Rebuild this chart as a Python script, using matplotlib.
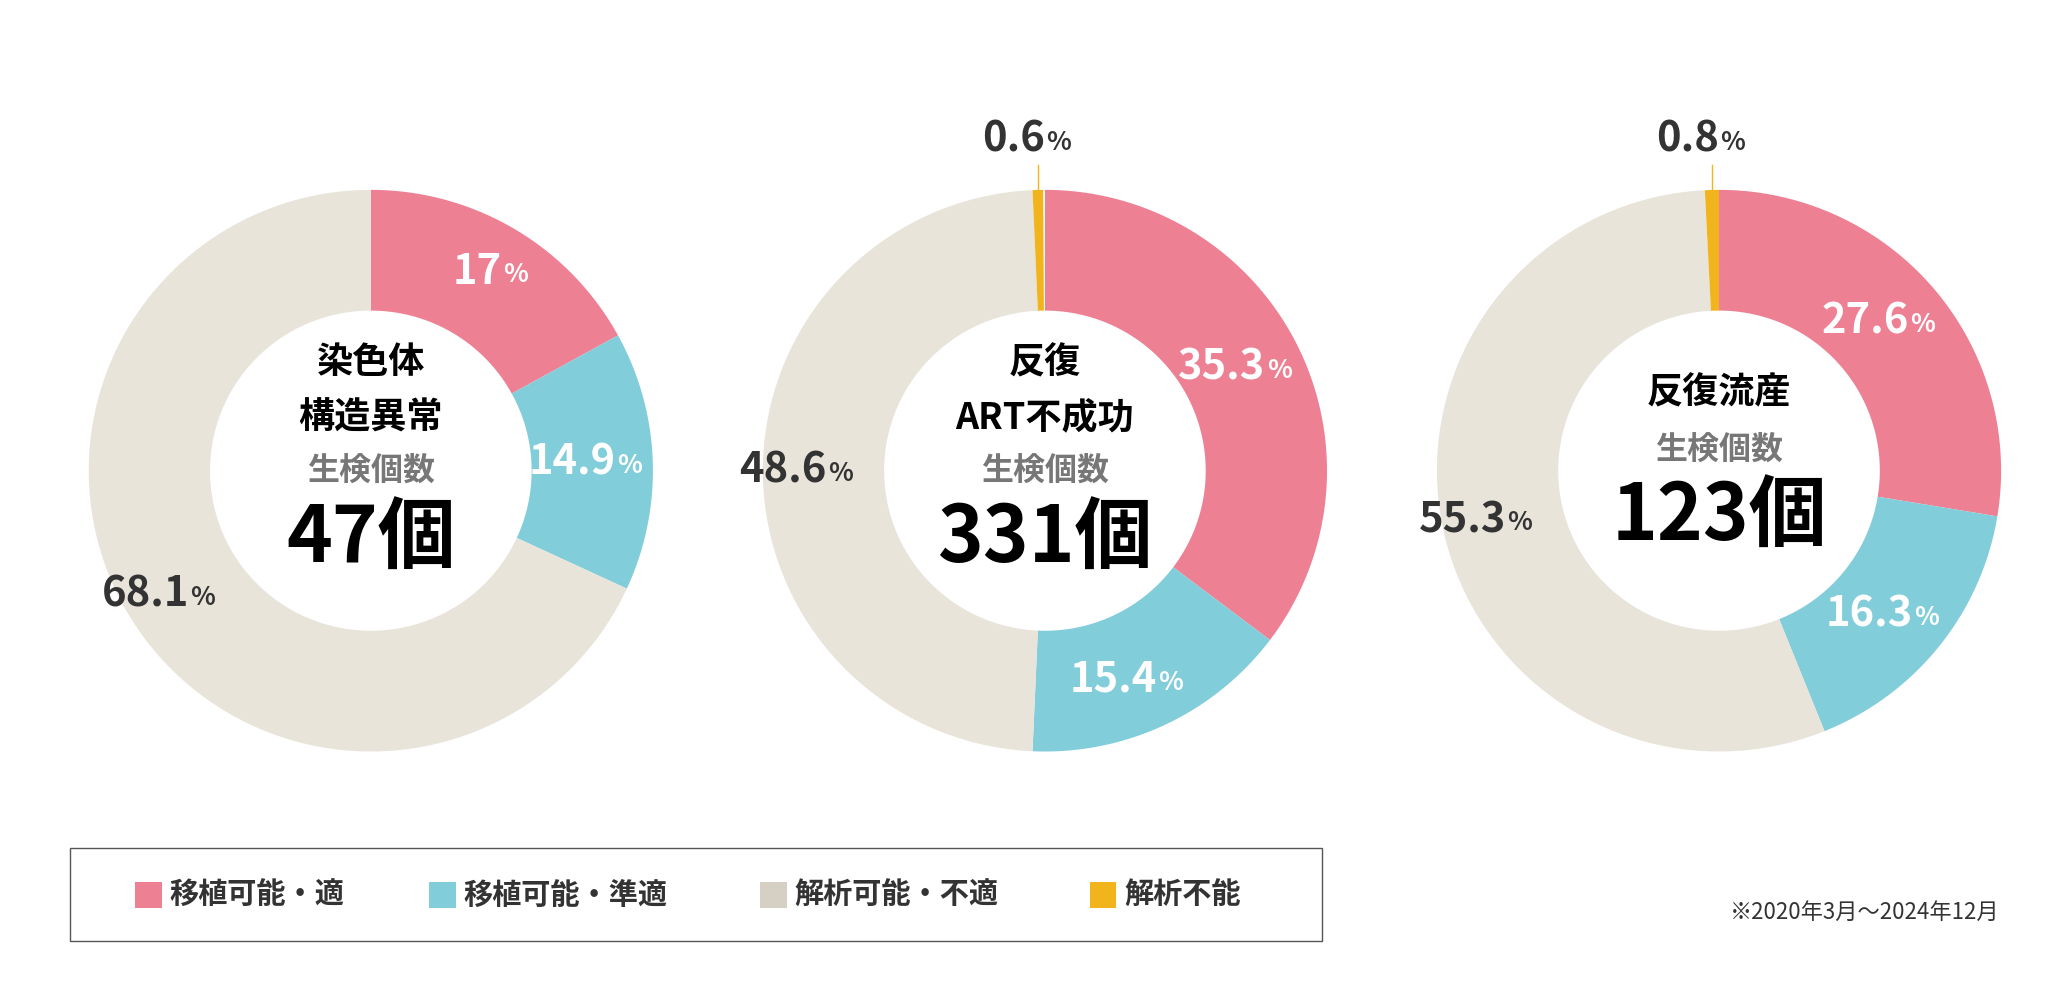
import matplotlib
matplotlib.use("Agg")
import matplotlib.pyplot as plt
import numpy as np
from matplotlib.patches import Rectangle

plt.rcParams['font.family'] = 'Noto Sans CJK JP'

categories = ["移植可能・適", "移植可能・準適", "解析可能・不適", "解析不能"]
colors = ["#EE8094", "#82CDDA", "#E8E4DA", "#F2B41C"]
legend_colors = ["#EE8094", "#82CDDA", "#D6CFC4", "#F2B41C"]
values1 = [17.0, 14.9, 68.1, 0.0]
values2 = [35.3, 15.4, 48.6, 0.6]
values3 = [27.6, 16.3, 55.3, 0.8]
labels1 = ["17", "14.9", "68.1", ""]
labels2 = ["35.3", "15.4", "48.6", "0.6"]
labels3 = ["27.6", "16.3", "55.3", "0.8"]
titles = [["染色体", "構造異常"], ["反復", "ART不成功"], ["反復流産"]]
counts = ["47個", "331個", "123個"]

W, H = 1560, 760
fig = plt.figure(figsize=(20.66, 10.02), dpi=100)
ax = fig.add_axes([0, 0, 1, 1])
ax.set_xlim(0, W); ax.set_ylim(0, H); ax.set_aspect('auto'); ax.axis('off')
sx = 20.66 / W; sy = 10.02 / H  # keep circles round: use scale to adjust
# aspect correction factor
asp = (10.02 / H) / (20.66 / W)

R = 213
centers = [280, 789, 1298]
cy = H - 357
DARK = "#333333"

def pct(x, y, s, color, fs=30):
    ax.text(x + 10, y, s, ha='right', va='center', fontsize=fs, fontweight='bold', color=color)
    ax.text(x + 11, y - 2, "%", ha='left', va='center', fontsize=fs * 0.62, fontweight='bold', color=color)

for ci, (vals, labs) in enumerate(zip([values1, values2, values3], [labels1, labels2, labels3])):
    cx = centers[ci]
    start = 90.0
    for v, lab, col, k in zip(vals, labs, colors, range(4)):
        if v <= 0:
            continue
        th1 = start - v * 3.6
        # draw wedge as polygon to handle aspect
        t = np.radians(np.linspace(th1, start, 200))
        ro, ri = R, R * 0.57
        xs = np.concatenate([cx + ro * np.cos(t) / asp * asp, cx + ri * np.cos(t[::-1])])
        ys = np.concatenate([cy + ro * np.sin(t), cy + ri * np.sin(t[::-1])])
        ax.fill(xs, ys, color=col, lw=0)
        mid = np.radians((start + th1) / 2)
        if k == 3:
            lx = cx + R * np.cos(mid)
            ax.plot([lx, lx], [H - 125, H - 145], color="#F2B41C", lw=1)
            pct(cx - 10, H - 106, lab, DARK)
        else:
            tc = "white" if k < 2 else DARK
            pct(cx + 175 * np.cos(mid), cy + 175 * np.sin(mid), lab, tc)
        start = th1
    tl = titles[ci]
    if len(tl) == 2:
        ys_ = [275, 317, 357, 410]
    else:
        ys_ = [298, 341, 393]
    for i, s in enumerate(tl):
        ax.text(cx, H - ys_[i], s, ha='center', va='center', fontsize=26, fontweight='bold', color='black')
    ax.text(cx, H - ys_[len(tl)], "生検個数", ha='center', va='center', fontsize=23, fontweight='bold', color='#777777')
    ax.text(cx, H - ys_[len(tl) + 1], counts[ci], ha='center', va='center', fontsize=56, fontweight='bold', color='black')

# legend
ax.add_patch(Rectangle((53, H - 714), 945, 71, fill=False, ec="#555555", lw=1))
lx = [102, 324, 574, 823]
for x, c, name in zip(lx, legend_colors, categories):
    ax.add_patch(Rectangle((x, H - 689), 20, 20, color=c, lw=0))
    ax.text(x + 26, H - 679, name, ha='left', va='center', fontsize=21, fontweight='bold', color=DARK)

ax.text(1510, H - 692, "※2020年3月～2024年12月", ha='right', va='center', fontsize=16, color=DARK)

fig.savefig("out.png", dpi=100, facecolor='white')
